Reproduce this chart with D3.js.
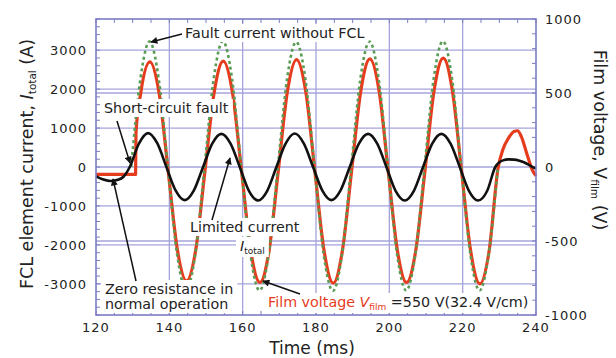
<!DOCTYPE html>
<html>
<head>
<meta charset="utf-8">
<script src="https://cdn.jsdelivr.net/npm/d3@7"></script>
<style>
  body { margin: 0; background: #fff; }
  text { font-family: "DejaVu Sans", sans-serif; fill: #222; }
</style>
</head>
<body>
<div id="chart"></div>
<script>
// ---- data ----
// limited current I_total (A, left axis)
var limitedT = [120, 122, 124, 126, 127.5,
  129.2, 131.7, 134.2, 136.7, 139.2, 141.7, 144.2, 146.7,
  149.2, 151.7, 154.2, 156.7, 159.2, 161.7, 164.2, 166.7,
  169.2, 171.7, 174.2, 176.7, 179.2, 181.7, 184.2, 186.7,
  189.2, 191.7, 194.2, 196.7, 199.2, 201.7, 204.2, 206.7,
  209.2, 211.7, 214.2, 216.7, 219.2, 221.7, 224.2, 226.7,
  228.9, 230, 231, 232.5, 234, 235.5, 237, 238.5, 240];
var limitedI = [-240, -320, -360, -330, -250,
  0, 600, 870, 610, 0, -600, -850, -600,
  0, 600, 850, 600, 0, -610, -860, -610,
  0, 600, 860, 600, 0, -600, -850, -600,
  0, 600, 850, 600, 0, -610, -860, -610,
  0, 600, 850, 600, 0, -610, -860, -610,
  0, 120, 170, 195, 190, 160, 110, 30, -40];

// film voltage V_film (V, right axis)
var filmT = [120, 130.8, 130.9,
  132.2, 134.7, 137.2, 139.7, 142.2, 144.7, 147.2, 149.7,
  152.2, 154.7, 157.2, 159.7, 162.2, 164.7, 167.2, 169.7,
  172.2, 174.7, 177.2, 179.7, 182.2, 184.7, 187.2, 189.7,
  192.2, 194.7, 197.2, 199.7, 202.2, 204.7, 207.2, 209.7,
  212.2, 214.7, 217.2, 219.7, 222.2, 224.7, 227.2,
  229.7, 231, 232.5, 234, 235, 236, 237.5, 239, 240];
var filmV = [-50, -50, 230,
  500, 710, 500, -30, -560, -770, -560, -30,
  500, 715, 505, -30, -565, -780, -565, -30,
  510, 725, 510, -30, -565, -785, -565, -30,
  510, 730, 515, -30, -565, -780, -565, -30,
  515, 735, 515, -30, -570, -790, -570,
  0, 120, 195, 240, 245, 205, 90, -20, -60];

// fault current without FCL (A, left axis)
var faultT = [129.6, 132.1, 134.6, 137.1, 139.6, 142.1, 144.6, 147.1,
  149.6, 152.1, 154.6, 157.1, 159.6, 162.1, 164.6, 167.1,
  169.6, 172.1, 174.6, 177.1, 179.6, 182.1, 184.6, 187.1,
  189.6, 192.1, 194.6, 197.1, 199.6, 202.1, 204.6, 207.1,
  209.6, 212.1, 214.6, 217.1, 219.6, 222.1, 224.6, 227.1, 229.6];
var faultI = [0, 2260, 3220, 2260, 0, -2230, -3150, -2230,
  0, 2270, 3230, 2270, 0, -2240, -3170, -2240,
  0, 2260, 3210, 2260, 0, -2250, -3180, -2250,
  0, 2260, 3220, 2260, 0, -2240, -3170, -2240,
  0, 2270, 3230, 2270, 0, -2240, -3170, -2240, 0];

var xTicks = [120, 140, 160, 180, 200, 220, 240];
var leftTicks = [-3000, -2000, -1000, 0, 1000, 2000, 3000];
var rightTicks = [-1000, -500, 0, 500, 1000];

// ---- layout ----
var svgWidth = 616;
var svgHeight = 358;
var margin = { top: 19, right: 80, bottom: 43, left: 96 };
var width = svgWidth - margin.left - margin.right;
var height = svgHeight - margin.top - margin.bottom;

var gridColor = "#a4a4dc";
var frameColor = "#7c7cc4";
var redColor = "#e63c1e";
var greenColor = "#5a9c55";

var svg = d3.select("#chart")
  .append("svg")
  .attr("width", svgWidth)
  .attr("height", svgHeight);

var g = svg.append("g")
  .attr("transform", "translate(" + margin.left + "," + margin.top + ")");

var x = d3.scaleLinear().domain([120, 240]).range([0, width]);
var yL = d3.scaleLinear().domain([-3800, 3800]).range([height, 0]);
var yR = d3.scaleLinear().domain([-1000, 1000]).range([height, 0]);

// grid
g.append("g").selectAll("line")
  .data(xTicks.slice(1, -1))
  .enter().append("line")
  .attr("x1", d => x(d)).attr("x2", d => x(d))
  .attr("y1", 0).attr("y2", height)
  .attr("stroke", gridColor).attr("stroke-width", 1.3);

g.append("g").selectAll("line")
  .data(leftTicks)
  .enter().append("line")
  .attr("x1", 0).attr("x2", width)
  .attr("y1", d => yL(d)).attr("y2", d => yL(d))
  .attr("stroke", gridColor).attr("stroke-width", 1.3);

g.append("g").selectAll("line")
  .data([-500, 500])
  .enter().append("line")
  .attr("x1", 0).attr("x2", width)
  .attr("y1", d => yR(d)).attr("y2", d => yR(d))
  .attr("stroke", gridColor).attr("stroke-width", 1.3);

// inward minor ticks on all four sides
var tickLen = 4;
g.append("g").selectAll("line")
  .data(d3.range(120, 240.1, 5))
  .enter().append("line")
  .attr("x1", d => x(d)).attr("x2", d => x(d))
  .attr("y1", 0).attr("y2", tickLen)
  .attr("stroke", frameColor).attr("stroke-width", 1);
g.append("g").selectAll("line")
  .data(d3.range(120, 240.1, 5))
  .enter().append("line")
  .attr("x1", d => x(d)).attr("x2", d => x(d))
  .attr("y1", height).attr("y2", height - tickLen)
  .attr("stroke", frameColor).attr("stroke-width", 1);
g.append("g").selectAll("line")
  .data(d3.range(-3800, 3801, 200))
  .enter().append("line")
  .attr("x1", 0).attr("x2", tickLen)
  .attr("y1", d => yL(d)).attr("y2", d => yL(d))
  .attr("stroke", frameColor).attr("stroke-width", 1);
g.append("g").selectAll("line")
  .data(d3.range(-1000, 1001, 100))
  .enter().append("line")
  .attr("x1", width).attr("x2", width - tickLen)
  .attr("y1", d => yR(d)).attr("y2", d => yR(d))
  .attr("stroke", frameColor).attr("stroke-width", 1);

// curves
var lineL = d3.line()
  .x(d => x(d[0])).y(d => yL(d[1]))
  .curve(d3.curveMonotoneX);
var lineR = d3.line()
  .x(d => x(d[0])).y(d => yR(d[1]))
  .curve(d3.curveMonotoneX);

g.append("path")
  .datum(d3.zip(filmT, filmV))
  .attr("d", lineR)
  .attr("fill", "none")
  .attr("stroke", redColor)
  .attr("stroke-width", 3.2)
  .attr("stroke-linejoin", "round");

g.append("path")
  .datum(d3.zip(faultT, faultI))
  .attr("d", lineL)
  .attr("fill", "none")
  .attr("stroke", greenColor)
  .attr("stroke-width", 2.6)
  .attr("stroke-dasharray", "3,3");

g.append("path")
  .datum(d3.zip(limitedT, limitedI))
  .attr("d", lineL)
  .attr("fill", "none")
  .attr("stroke", "#111")
  .attr("stroke-width", 2.6)
  .attr("stroke-linejoin", "round");

// frame
g.append("rect")
  .attr("width", width).attr("height", height)
  .attr("fill", "none")
  .attr("stroke", frameColor).attr("stroke-width", 1.6);

// tick labels
var tickFont = 13;
svg.append("g").selectAll("text")
  .data(xTicks)
  .enter().append("text")
  .attr("x", d => margin.left + x(d))
  .attr("y", margin.top + height + 17)
  .attr("text-anchor", "middle")
  .style("font-size", tickFont + "px")
  .style("letter-spacing", "1px")
  .text(d => d);

svg.append("g").selectAll("text")
  .data(leftTicks)
  .enter().append("text")
  .attr("x", margin.left - 9)
  .attr("y", d => margin.top + yL(d) + 5)
  .attr("text-anchor", "end")
  .style("font-size", tickFont + "px")
  .style("letter-spacing", "1px")
  .text(d => d);

svg.append("g").selectAll("text")
  .data(rightTicks)
  .enter().append("text")
  .attr("x", margin.left + width + 9)
  .attr("y", d => margin.top + yR(d) + 5)
  .attr("text-anchor", "start")
  .style("font-size", tickFont + "px")
  .style("letter-spacing", "1px")
  .text(d => d);

// axis titles
svg.append("text")
  .attr("x", margin.left + width / 2 - 4)
  .attr("y", 354)
  .attr("text-anchor", "middle")
  .style("font-size", "17px")
  .text("Time (ms)");

var leftTitle = svg.append("text")
  .attr("transform", "translate(33,164) rotate(-90)")
  .attr("text-anchor", "middle")
  .style("font-size", "17.5px");
leftTitle.append("tspan").text("FCL element current, ");
leftTitle.append("tspan").style("font-style", "italic").text("I");
leftTitle.append("tspan").attr("dy", 3).style("font-size", "10.5px").text("total");
leftTitle.append("tspan").attr("dy", -3).text(" (A)");

var rightTitle = svg.append("text")
  .attr("transform", "translate(594,140) rotate(90)")
  .attr("text-anchor", "middle")
  .style("font-size", "17.5px");
rightTitle.append("tspan").text("Film voltage, V");
rightTitle.append("tspan").attr("dy", 3).style("font-size", "10.5px").text("film");
rightTitle.append("tspan").attr("dy", -3).text(" (V)");

// annotations: white boxes behind text
var annoFont = "14.3px";
var annoLayer = svg.append("g");

function addNote(lines, px, py, lineGap) {
  var grp = annoLayer.append("g");
  var rect = grp.append("rect").attr("fill", "#fff");
  var t = grp.append("text")
    .attr("x", px)
    .attr("y", py)
    .style("font-size", annoFont);
  lines.forEach(function (parts, i) {
    parts.forEach(function (p, j) {
      var s = t.append("tspan").text(p.text);
      if (i > 0 && j === 0) s.attr("x", px).attr("dy", lineGap);
      if (p.fill) s.style("fill", p.fill);
      if (p.italic) s.style("font-style", "italic");
      if (p.sub) s.attr("dy", 3).style("font-size", "9px");
      if (p.up) s.attr("dy", -3);
    });
  });
  var bb = grp.node().getBBox();
  rect.attr("x", bb.x - 4).attr("y", bb.y - 1)
    .attr("width", bb.width + 8).attr("height", bb.height + 2);
}

addNote([[{ text: "Fault current without FCL" }]], 185, 38, 0);
addNote([[{ text: "Short-circuit fault" }]], 104, 113, 0);
addNote([[{ text: "Limited current" }]], 190, 232, 0);
addNote([[{ text: "I", italic: true }, { text: "total", sub: true }]], 240, 251, 0);
addNote([[{ text: "Zero resistance in" }], [{ text: "normal operation" }]], 105, 294, 15);
addNote([[{ text: "Film voltage ", fill: redColor },
          { text: "V", fill: redColor, italic: true },
          { text: "film", fill: redColor, sub: true },
          { text: " =550 V(32.4 V/cm)", up: true }]], 268, 307, 0);

// arrows
svg.append("defs").append("marker")
  .attr("id", "head")
  .attr("viewBox", "0 0 10 10")
  .attr("refX", 9).attr("refY", 5)
  .attr("markerWidth", 9).attr("markerHeight", 7)
  .attr("markerUnits", "userSpaceOnUse")
  .attr("orient", "auto")
  .append("path")
  .attr("d", "M0,0L10,5L0,10Z")
  .attr("fill", "#111");

var arrows = [
  [182, 34, 151, 42],
  [117, 121, 130, 163],
  [136, 281, 113, 179],
  [212, 220, 230, 158],
  [300, 294, 263, 281]
];
svg.append("g").selectAll("line")
  .data(arrows)
  .enter().append("line")
  .attr("x1", d => d[0]).attr("y1", d => d[1])
  .attr("x2", d => d[2]).attr("y2", d => d[3])
  .attr("stroke", "#111").attr("stroke-width", 1.5)
  .attr("marker-end", "url(#head)");
</script>
</body>
</html>
